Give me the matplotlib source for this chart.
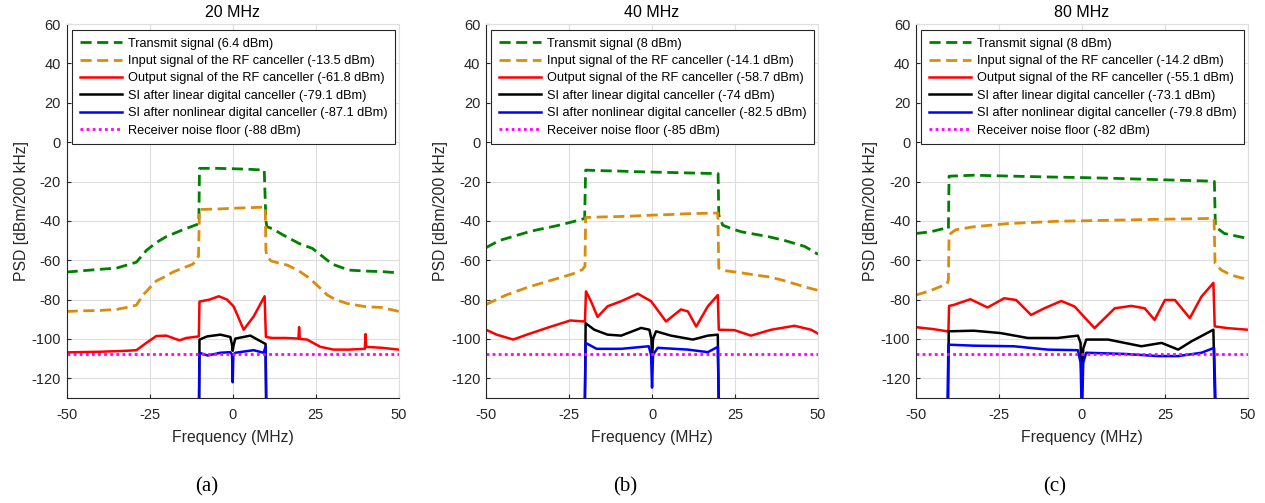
import matplotlib
matplotlib.use('Agg')
import matplotlib.pyplot as plt

# ---- data (MHz, dBm/200 kHz) ----
TITLES=['20 MHz','40 MHz','80 MHz']
CAPTIONS=['(a)','(b)','(c)']
TICKS_X=[-50,-25,0,25,50]
TICKS_Y=[-120,-100,-80,-60,-40,-20,0,20,40,60]

# 20 MHz
TX20_F=[-50,-45,-40,-35,-32,-29,-26,-23,-20,-15,-10.2,-10,-5,0,5,9.5,10,10.3,12,15,20,24,27,30,35,40,45,50]
TX20_P=[-66,-65.3,-64.6,-64,-62.5,-61,-55,-51,-48,-44.5,-41.5,-13.3,-13.3,-13.5,-13.8,-14.2,-40,-43,-44,-47,-51.5,-54,-58,-62,-65,-65.5,-65.8,-66.4]
IN20_F=[-50,-45,-40,-35,-32,-29,-27,-25,-23,-20,-18,-15,-12,-10.3,-10,-5,0,5,9.8,10,10.3,11.5,14,16.5,20,22.5,25,28.5,31,34.5,40,45,50]
IN20_P=[-86,-85.7,-85.5,-85,-84,-82.8,-77.7,-74,-70.5,-68,-66,-64,-62,-58,-34.2,-34,-33.6,-33.3,-33,-55,-58,-60.3,-61.5,-62.5,-65.5,-68.4,-72,-77.7,-80,-82,-83.6,-84,-86]
RF20_F=[-50,-40,-32,-29,-26,-23,-20,-16,-14,-10.2,-10,-7,-4.2,-1.7,0.3,3.3,6.3,9.6,10,12,16,19.8,20,20.2,22.4,26.4,30.4,35,39.8,40,40.2,45,50]
RF20_P=[-106.8,-106.5,-106,-105.7,-102,-98.5,-98.3,-100.7,-99.5,-98.7,-81,-80,-78.3,-80,-83.5,-95.3,-88.6,-78.3,-99,-99.5,-99.5,-99.8,-94,-100,-100.3,-104,-105.4,-105.4,-105,-97.5,-104,-104.5,-105.4]
LIN20_F=[-10.1,-10,-7.7,-3.7,-0.7,-0.2,0,0.3,0.8,5.3,9.3,9.9,10.1]
LIN20_P=[-135,-100.3,-98.7,-97.8,-99,-103,-106,-103,-99.8,-98.3,-102,-102.5,-135]
NL20_F=[-10.2,-10,-7.5,-3.7,-0.7,-0.2,0,0.2,0.8,6.3,9.3,9.9,10.1]
NL20_P=[-135,-107,-108.4,-107,-106.7,-108,-122,-108,-107,-105.7,-107,-104,-135]

# 40 MHz
TX40_F=[-50,-46,-42,-38,-35,-31,-28,-24,-20.3,-20,-15,-10,-5,0,5,10,15,19.9,20.1,21.3,24,27,31,35,40,46,50]
TX40_P=[-53.6,-50,-48,-46,-44.7,-43.3,-42.2,-40.5,-38.8,-14.2,-14.5,-14.7,-15,-15.2,-15.4,-15.6,-15.8,-16,-37,-42.2,-44,-45.6,-46.8,-48,-50,-53,-57]
IN40_F=[-50,-44,-37,-30,-24,-21,-20.2,-20,-15,-10,-5,0,5,10,15,19.8,20.1,22,27,31,35,39,43,47,50]
IN40_P=[-82.5,-77.7,-73.5,-70,-67,-64.8,-63,-38.3,-38,-37.8,-37.5,-37.1,-36.8,-36.4,-36.2,-36,-64,-65.3,-66.4,-67.5,-68.4,-70,-72,-74,-75.3]
RF40_F=[-50,-46.8,-41.8,-37.7,-31.7,-24.6,-20.6,-20.2,-19.9,-18.4,-16.4,-13.4,-9.3,-4.3,-0.3,4.2,8.7,10.8,13.3,16.8,19.8,20.1,24.8,29.8,35.9,42.9,47.9,50]
RF40_P=[-95.3,-97.8,-100.3,-97.8,-94.4,-90.6,-91.1,-91,-75.8,-80.8,-88.8,-83.4,-80.8,-77,-80.8,-91.1,-85,-86,-93.7,-83.4,-77.7,-95.3,-95.5,-98.3,-95.3,-93.3,-95.3,-97.3]
LIN40_F=[-20.2,-20,-17.4,-13.4,-9.3,-3.3,-0.8,-0.2,0,0.3,1.2,5.7,12.3,16.8,19.8,20.1]
LIN40_P=[-135,-92,-95.3,-97.8,-98.3,-94.4,-95.3,-100,-110,-100,-96.1,-98.3,-100.3,-98.3,-97.8,-135]
NL40_F=[-20.3,-20,-16.7,-9.3,-1,-0.3,0,0.3,1.7,10.8,16.8,19.8,20.1]
NL40_P=[-135,-102,-105,-105,-103.7,-108,-124.7,-108,-104.5,-105.4,-106.7,-104,-135]

# 80 MHz
TX80_F=[-50,-45.7,-41.6,-40.2,-40,-32.6,-20.5,-10,0,10,17.9,28,39,39.9,40.2,42.9,50]
TX80_P=[-46.4,-45.6,-43.9,-44,-17.3,-16.8,-17.3,-17.7,-18,-18.4,-18.8,-19.3,-19.8,-20,-43,-46.4,-49]
IN80_F=[-50,-45.7,-40.6,-40.2,-40,-38,-32.6,-22.5,-7.3,7.9,23,37.9,39.8,40.1,42,45,50]
IN80_P=[-77.7,-75.5,-72,-70,-47,-44.5,-43,-41.4,-40.2,-39.7,-39.2,-38.8,-39,-61.7,-65,-67.6,-69.8]
RF80_F=[-50,-44.7,-40.6,-40.2,-40,-38.6,-33.6,-28.4,-23.4,-19.8,-15.3,-11.3,-6.2,-2.2,3.8,9.9,14.9,18.9,21.9,25,28,32.5,36,39.6,40,43.9,50]
RF80_P=[-94,-95,-96.1,-96.3,-83.2,-82.7,-79.8,-84,-79.3,-80.2,-87.8,-84.4,-80.7,-83.5,-94.5,-84.4,-83.2,-84.4,-90.3,-80.2,-80.2,-89.4,-78.5,-71.5,-93.6,-94.5,-95.3]
LIN80_F=[-40.3,-40.1,-32.6,-24.5,-16.3,-7.3,-1.2,-0.4,0,0.4,1.3,7.9,17.9,24,29,33,39.6,40.1]
LIN80_P=[-135,-96.1,-95.8,-97,-99.5,-99.5,-98.3,-102,-130,-105,-100.3,-100.3,-103.7,-102,-105.4,-101.2,-95.3,-135]
NL80_F=[-40.5,-40.2,-32.6,-20.5,-10.3,-1.2,-0.4,0,0.4,1.3,12.9,23,29,36,39.8,40.3]
NL80_P=[-135,-102.9,-103.4,-103.7,-105.4,-105.7,-112,-140,-112,-107,-107.6,-108.7,-108.7,-107,-104.5,-135]

NOISE=[-107.5,-107.5,-107.5]

TX_DBM=['6.4','8','8']
IN_DBM=['-13.5','-14.1','-14.2']
RF_DBM=['-61.8','-58.7','-55.1']
LIN_DBM=['-79.1','-74','-73.1']
NL_DBM=['-87.1','-82.5','-79.8']
NF_DBM=['-88','-85','-82']

GREEN=(0,0.5,0)
ORANGE=(0.85,0.55,0.05)
GRAY=(0.15,0.15,0.15)

plt.rcParams['font.family']=['Liberation Sans','DejaVu Sans']
plt.rcParams['axes.unicode_minus']=False


def drawPanel(ax,i,curves):
	[tx,inp,rf,lin,nl]=curves
	ax.plot(tx[0],tx[1],color=GREEN,lw=2.0,dashes=(4,2),label='Transmit signal ('+TX_DBM[i]+' dBm)')
	ax.plot(inp[0],inp[1],color=ORANGE,lw=2.0,dashes=(4,2),label='Input signal of the RF canceller ('+IN_DBM[i]+' dBm)')
	ax.plot(rf[0],rf[1],color='red',lw=1.8,label='Output signal of the RF canceller ('+RF_DBM[i]+' dBm)')
	ax.plot(lin[0],lin[1],color='black',lw=1.8,label='SI after linear digital canceller ('+LIN_DBM[i]+' dBm)')
	ax.plot(nl[0],nl[1],color='blue',lw=1.8,label='SI after nonlinear digital canceller ('+NL_DBM[i]+' dBm)')
	ax.plot([-50,50],[NOISE[i],NOISE[i]],color='magenta',lw=2.0,linestyle=(0,(1,1.2)),label='Receiver noise floor ('+NF_DBM[i]+' dBm)')
	ax.set_xlim(-50,50)
	ax.set_ylim(-130,60)
	ax.set_xticks(TICKS_X)
	ax.set_yticks(TICKS_Y)
	ax.grid(True,color=(0.87,0.87,0.87),lw=0.8)
	ax.set_axisbelow(True)
	for s in ['top','right']:
		ax.spines[s].set_color((0.87,0.87,0.87))
	for s in ['left','bottom']:
		ax.spines[s].set_color(GRAY)
	ax.tick_params(direction='in',length=3,labelsize=10.5,colors=GRAY,top=False,right=False)
	ax.tick_params(axis='x',pad=7)
	ax.tick_params(axis='y',pad=4)
	ax.set_title(TITLES[i],fontsize=11.5,color='black',pad=5)
	ax.set_xlabel('Frequency (MHz)',fontsize=11.3,color=GRAY,labelpad=6)
	ax.set_ylabel('PSD [dBm/200 kHz]',fontsize=11.3,color=GRAY,labelpad=2)
	leg=ax.legend(loc='upper left',bbox_to_anchor=(0.016,0.984),borderaxespad=0,fontsize=9.2,
		handlelength=3.3,handletextpad=0.45,labelspacing=0.42,borderpad=0.6,fancybox=False,framealpha=1)
	leg.get_frame().set_edgecolor(GRAY)
	leg.get_frame().set_linewidth(0.8)


def main():
	fig=plt.figure(figsize=(12.65,5.03),dpi=100)
	lefts=[0.0527,0.3842,0.724]
	data=[[(TX20_F,TX20_P),(IN20_F,IN20_P),(RF20_F,RF20_P),(LIN20_F,LIN20_P),(NL20_F,NL20_P)],
		[(TX40_F,TX40_P),(IN40_F,IN40_P),(RF40_F,RF40_P),(LIN40_F,LIN40_P),(NL40_F,NL40_P)],
		[(TX80_F,TX80_P),(IN80_F,IN80_P),(RF80_F,RF80_P),(LIN80_F,LIN80_P),(NL80_F,NL80_P)]]
	cap_x=[207,625,1055]
	for i in range(3):
		ax=fig.add_axes([lefts[i],0.2087,0.2625,0.7435])
		drawPanel(ax,i,data[i])
		fig.text(cap_x[i]/1265.0,1-487/503.0,CAPTIONS[i],ha='center',va='center',fontsize=15,family=['Liberation Serif','DejaVu Serif'])
	fig.savefig('out.png',dpi=100)


if __name__ == "__main__":
	main()
